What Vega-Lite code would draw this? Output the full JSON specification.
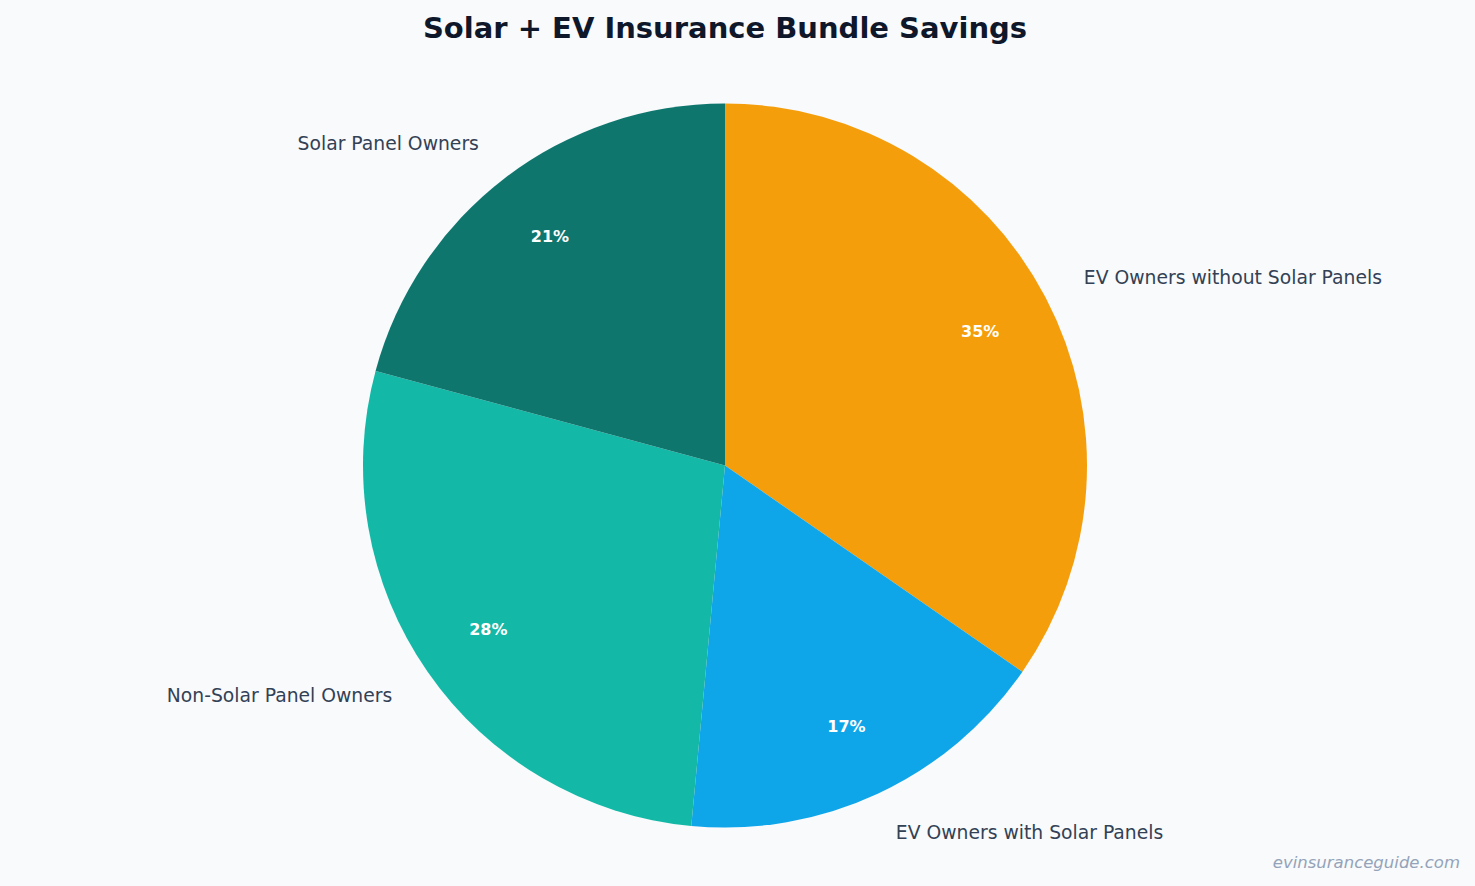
{
  "$schema": "https://vega.github.io/schema/vega-lite/v6.json",
  "width": 1475,
  "height": 886,
  "autosize": {"type": "fit", "contains": "padding"},
  "padding": {"top": 15, "bottom": 14, "left": 0, "right": 15},
  "background": "#F8FAFC",
  "title": {
    "text": "Solar + EV Insurance Bundle Savings",
    "font": "DejaVu Sans",
    "fontSize": 29,
    "fontWeight": "bold",
    "color": "#0F172A",
    "anchor": "middle",
    "offset": 17
  },
  "layer": [
    {
      "data": {
        "values": [
          {"label": "EV Owners without Solar Panels", "value": 35, "idx": 1},
          {"label": "EV Owners with Solar Panels", "value": 17, "idx": 2},
          {"label": "Non-Solar Panel Owners", "value": 28, "idx": 3},
          {"label": "Solar Panel Owners", "value": 21, "idx": 4}
        ]
      },
      "transform": [
        {"calculate": "format(datum.value, 'd') + '%'", "as": "pct"}
      ],
      "encoding": {
        "theta": {"field": "value", "type": "quantitative", "stack": true},
        "order": {"field": "idx", "type": "quantitative"},
        "detail": {"field": "label", "type": "nominal"}
      },
      "layer": [
        {
          "mark": {"type": "arc", "outerRadius": 362},
          "encoding": {
            "color": {
              "field": "label",
              "type": "nominal",
              "scale": {
                "domain": ["EV Owners without Solar Panels", "EV Owners with Solar Panels", "Non-Solar Panel Owners", "Solar Panel Owners"],
                "range": ["#F59E0B", "#0EA5E9", "#14B8A6", "#0F766E"]
              },
              "legend": null
            }
          }
        },
        {
          "mark": {"type": "text", "radius": 288, "font": "DejaVu Sans", "fontSize": 16, "fontWeight": "bold", "color": "white"},
          "encoding": {
            "text": {"field": "pct", "type": "nominal"}
          }
        },
        {
          "mark": {"type": "text", "radius": 405, "align": "left", "font": "DejaVu Sans", "fontSize": 18.75, "color": "#334155"},
          "encoding": {
            "text": {
              "condition": {"test": "indexof(['EV Owners without Solar Panels', 'EV Owners with Solar Panels'], datum.label) >= 0", "field": "label"},
              "value": ""
            }
          }
        },
        {
          "mark": {"type": "text", "radius": 405, "align": "right", "font": "DejaVu Sans", "fontSize": 18.75, "color": "#334155"},
          "encoding": {
            "text": {
              "condition": {"test": "indexof(['Non-Solar Panel Owners', 'Solar Panel Owners'], datum.label) >= 0", "field": "label"},
              "value": ""
            }
          }
        }
      ]
    },
    {
      "data": {"values": [{"note": "evinsuranceguide.com"}]},
      "mark": {"type": "text", "align": "right", "baseline": "bottom", "font": "DejaVu Sans", "fontSize": 16.5, "fontStyle": "italic", "color": "#94A3B8"},
      "encoding": {
        "text": {"field": "note", "type": "nominal"},
        "x": {"value": {"expr": "width + 10"}},
        "y": {"value": {"expr": "height + 1"}}
      }
    }
  ],
  "view": {"stroke": null}
}
